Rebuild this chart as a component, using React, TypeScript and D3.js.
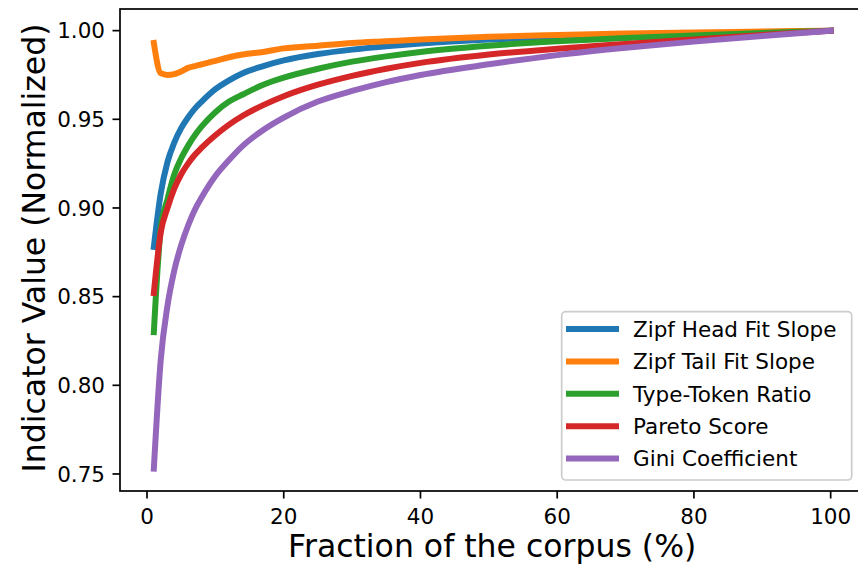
import React from "react";
import * as d3 from "d3";

const fractions = [1, 2, 3, 4, 5, 6, 7, 8, 10, 12, 14, 17, 20, 25, 30, 35, 40, 50, 60, 70, 80, 90, 100];

const zipfHead = [0.878, 0.908, 0.926, 0.937, 0.945, 0.951, 0.956, 0.960, 0.967, 0.972, 0.976, 0.980, 0.9832, 0.9868, 0.9893, 0.9912, 0.9928, 0.995, 0.9963, 0.9973, 0.9982, 0.9991, 1.0];
const zipfTail = [0.993, 0.976, 0.975, 0.9755, 0.977, 0.979, 0.980, 0.981, 0.983, 0.985, 0.9865, 0.988, 0.990, 0.9915, 0.993, 0.994, 0.995, 0.9965, 0.9975, 0.9984, 0.999, 0.9995, 1.0];
const typeToken = [0.830, 0.888, 0.905, 0.919, 0.928, 0.935, 0.941, 0.946, 0.954, 0.960, 0.964, 0.9695, 0.9735, 0.9785, 0.9825, 0.9855, 0.988, 0.9915, 0.994, 0.9958, 0.9972, 0.9986, 1.0];
const pareto = [0.852, 0.886, 0.900, 0.911, 0.919, 0.925, 0.930, 0.934, 0.941, 0.947, 0.952, 0.958, 0.963, 0.9695, 0.9745, 0.9785, 0.9818, 0.9865, 0.9898, 0.9925, 0.995, 0.9975, 1.0];
const gini = [0.753, 0.814, 0.845, 0.865, 0.879, 0.890, 0.899, 0.906, 0.918, 0.927, 0.935, 0.944, 0.951, 0.960, 0.966, 0.971, 0.975, 0.981, 0.9862, 0.9903, 0.9938, 0.997, 1.0];

const seriesNames = ["Zipf Head Fit Slope", "Zipf Tail Fit Slope", "Type-Token Ratio", "Pareto Score", "Gini Coefficient"];
const seriesValues = [zipfHead, zipfTail, typeToken, pareto, gini];
const seriesColors = ["#1f77b4", "#ff7f0e", "#2ca02c", "#d62728", "#9467bd"];

const xTicks = [0, 20, 40, 60, 80, 100];
const yTicks = [0.75, 0.8, 0.85, 0.9, 0.95, 1.0];

const xDomain = [-3.95, 104.95];
const yDomain = [0.7404, 1.0122];

const xLabel = "Fraction of the corpus (%)";
const yLabel = "Indicator Value (Normalized)";

export default function App() {
  const W = 858, H = 569;
  const left = 120, right = 864.5, top = 9, bottom = 491;
  const x = d3.scaleLinear().domain(xDomain).range([left, right]);
  const y = d3.scaleLinear().domain(yDomain).range([bottom, top]);
  const line = d3
    .line<[number, number]>()
    .x((d) => x(d[0]))
    .y((d) => y(d[1]))
    .curve(d3.curveMonotoneX);
  const font = "DejaVu Sans";
  const tickFs = 21.5;
  const tickLen = 7.5;
  const labelFs = 31.5;

  const legX = 561.7, legY = 311.7, legW = 290, legH = 168.3;
  const rowY = (i: number) => 329 + i * 32.4;

  return (
    <svg width={W} height={H} style={{ position: "absolute", left: 0, top: 0, background: "#fff" }} fontFamily={font}>
      <defs>
        <clipPath id="plotclip">
          <rect x={left} y={top} width={right - left} height={bottom - top} />
        </clipPath>
      </defs>
      <rect x={0} y={0} width={W} height={H} fill="#fff" />
      <g clipPath="url(#plotclip)">
        {seriesValues.map((vals, i) => (
          <path
            key={i}
            d={line(fractions.map((f, j) => [f, vals[j]] as [number, number])) || ""}
            fill="none"
            stroke={seriesColors[i]}
            strokeWidth={6}
            strokeLinecap="square"
            strokeLinejoin="round"
          />
        ))}
      </g>
      <rect x={left} y={top} width={right - left} height={bottom - top} fill="none" stroke="#000" strokeWidth={1.7} />
      {xTicks.map((t) => (
        <g key={t}>
          <line x1={x(t)} x2={x(t)} y1={bottom} y2={bottom + tickLen} stroke="#000" strokeWidth={1.7} />
          <text x={x(t)} y={bottom + 33} textAnchor="middle" fontSize={tickFs} fill="#000">
            {t}
          </text>
        </g>
      ))}
      {yTicks.map((t) => (
        <g key={t}>
          <line x1={left - tickLen} x2={left} y1={y(t)} y2={y(t)} stroke="#000" strokeWidth={1.7} />
          <text x={left - tickLen - 7.5} y={y(t)} dy="0.36em" textAnchor="end" fontSize={tickFs} fill="#000">
            {t.toFixed(2)}
          </text>
        </g>
      ))}
      <text x={(left + right) / 2} y={557} textAnchor="middle" fontSize={labelFs} fill="#000">
        {xLabel}
      </text>
      <text transform={`translate(45, ${(top + bottom) / 2 - 2}) rotate(-90)`} textAnchor="middle" fontSize={labelFs} fill="#000">
        {yLabel}
      </text>
      <rect x={legX} y={legY} width={legW} height={legH} rx={4} fill="#fff" fillOpacity={0.8} stroke="#cccccc" strokeWidth={1.7} />
      {seriesNames.map((name, i) => (
        <g key={name}>
          <line x1={569} x2={616} y1={rowY(i)} y2={rowY(i)} stroke={seriesColors[i]} strokeWidth={6} strokeLinecap="square" />
          <text x={633} y={rowY(i)} dy="0.36em" fontSize={21.5} fill="#000">
            {name}
          </text>
        </g>
      ))}
    </svg>
  );
}
